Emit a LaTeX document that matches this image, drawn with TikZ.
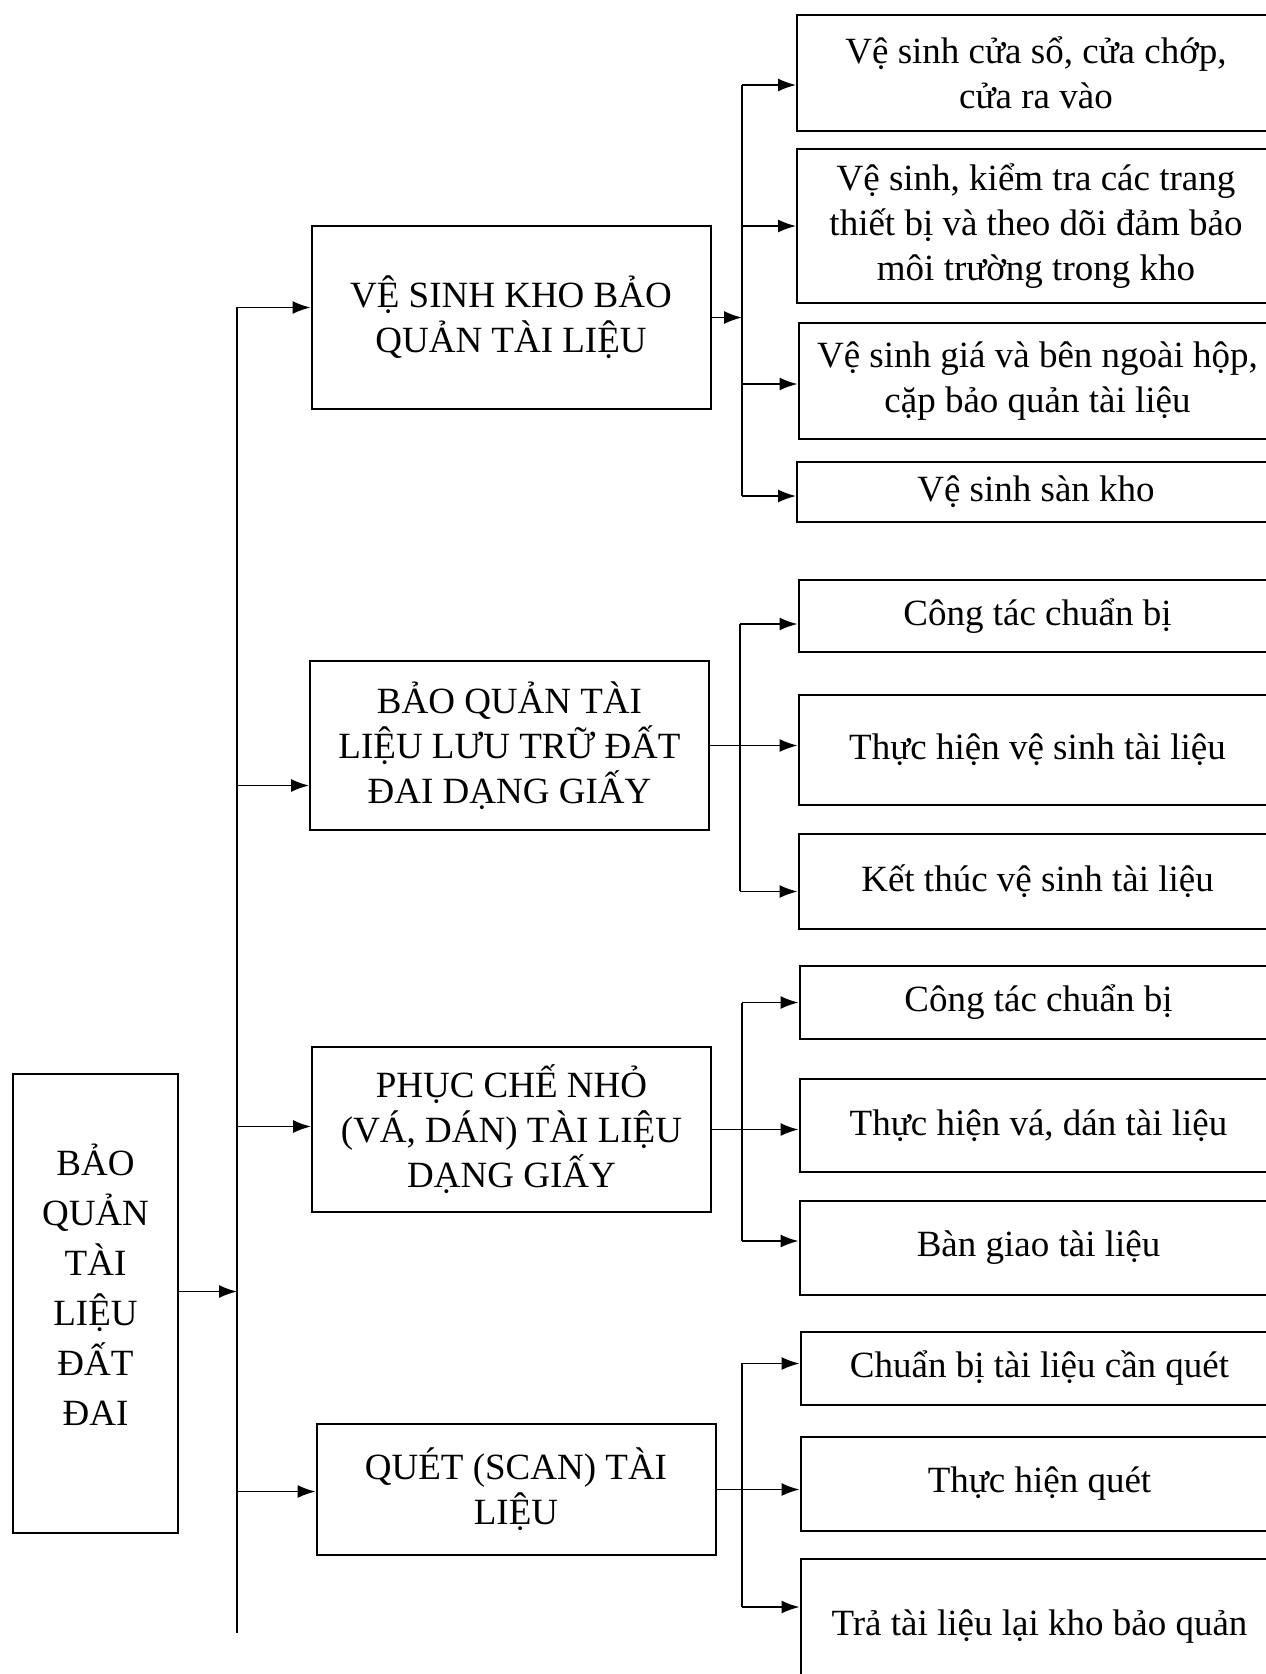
\documentclass[tikz,border=0pt]{standalone}
\usepackage{fontspec}
\setmainfont{Liberation Serif}
\usetikzlibrary{
  positioning,
  arrows.meta,
  calc
}

\begin{document}
\begin{tikzpicture}[
  x=1pt, y=-1pt,
  every node/.style={font=\fontsize{37}{45}\selectfont, align=center},
  rootbox/.style={
    rectangle, draw, line width=2pt,
    minimum width=165pt, minimum height=459pt,
    text depth=38pt,
    font=\fontsize{37}{50}\selectfont
  },
  midbox/.style={
    rectangle, draw, line width=2pt,
    minimum width=399pt
  },
  leaf/.style={
    rectangle, draw, line width=2pt,
    minimum width=478pt
  },
  link/.style={line width=1.6pt},
  arrow/.style={-{Latex[length=18pt,width=13pt]}, line width=1.6pt}
]
 \useasboundingbox (0,0) rectangle (1266,1674);
 \fill[white] (0,0) rectangle (1266,1674);

 % Root
 \node[rootbox] (root) at (95.5,1303.5)
  {BẢO\\QUẢN\\TÀI\\LIỆU\\ĐẤT\\ĐAI};

 % Four tasks
 \node[midbox, minimum height=183pt] (kho) at (511,317.5)
  {VỆ SINH KHO BẢO\\QUẢN TÀI LIỆU};
 \node[midbox, minimum height=169pt] (giay) at (509.5,745.5)
  {BẢO QUẢN TÀI\\LIỆU LƯU TRỮ ĐẤT\\ĐAI DẠNG GIẤY};
 \node[midbox, minimum height=165pt] (phucche) at (511.5,1129.5)
  {PHỤC CHẾ NHỎ\\(VÁ, DÁN) TÀI LIỆU\\DẠNG GIẤY};
 \node[midbox, minimum height=131pt] (quet) at (516,1489.5)
  {QUÉT (SCAN) TÀI\\LIỆU};

 % Steps of each task
 \node[leaf, minimum height=116pt] (cuaso) at (1036,73)
  {Vệ sinh cửa sổ, cửa chớp,\\cửa ra vào};
 \node[leaf, minimum height=154pt] (thietbi) at (1036,226)
  {Vệ sinh, kiểm tra các trang\\thiết bị và theo dõi đảm bảo\\môi trường trong kho};
 \node[leaf, minimum height=116pt] (gia) at (1037.5,381)
  {Vệ sinh giá và bên ngoài hộp,\\cặp bảo quản tài liệu};
 \node[leaf, minimum height=60pt] (san) at (1036,492) {Vệ sinh sàn kho};

 \node[leaf, minimum height=72pt] (chuanbiA) at (1037.5,616) {Công tác chuẩn bị};
 \node[leaf, minimum height=110pt] (thuchienA) at (1037.5,750) {Thực hiện vệ sinh tài liệu};
 \node[leaf, minimum height=95pt] (ketthuc) at (1037.5,881.5) {Kết thúc vệ sinh tài liệu};

 \node[leaf, minimum height=73pt] (chuanbiB) at (1038.5,1002.5) {Công tác chuẩn bị};
 \node[leaf, minimum height=93pt] (vadan) at (1038.5,1125.5) {Thực hiện vá, dán tài liệu};
 \node[leaf, minimum height=94pt] (bangiao) at (1038.5,1248) {Bàn giao tài liệu};

 \node[leaf, minimum height=73pt] (chuanbiC) at (1039.5,1368.5) {Chuẩn bị tài liệu cần quét};
 \node[leaf, minimum height=94pt] (thuchienC) at (1039.5,1484) {Thực hiện quét};
 \node[leaf, minimum height=136pt] (tra) at (1039.5,1627) {Trả tài liệu lại kho bảo quản};

 % Trunk line
 \coordinate (trunktop) at (237,307);
 \coordinate (trunkbot) at (237,1633);
 \draw[link] (trunktop) -- (trunkbot);
 \draw[arrow] ([yshift=12pt]root.east) -- ([yshift=12pt]root.east -| trunktop);
 \foreach \n/\dy in {kho/10, giay/-40, phucche/3, quet/-2} {
  \draw[arrow] ([yshift=\dy pt]\n.west -| trunktop) -- ([yshift=\dy pt]\n.west);
 }

 % Branch lines
 \coordinate (g1top) at (742,85);
 \coordinate (g1bot) at (742,496);
 \draw[link] (g1top) -- (g1bot);
 \draw[arrow] (kho.east) -- (kho.east -| g1top);
 \foreach \n/\dy in {cuaso/-12, thietbi/0, gia/-3, san/-4} {
  \draw[arrow] ([yshift=\dy pt]\n.west -| g1top) -- ([yshift=\dy pt]\n.west);
 }

 \coordinate (g2top) at (740,624);
 \coordinate (g2bot) at (740,891);
 \draw[link] (g2top) -- (g2bot);
 \draw[arrow] (giay.east) -- (giay.east -| thuchienA.west);
 \foreach \n/\dy in {chuanbiA/-8, ketthuc/-10} {
  \draw[arrow] ([yshift=\dy pt]\n.west -| g2top) -- ([yshift=\dy pt]\n.west);
 }

 \coordinate (g3top) at (742,1003);
 \coordinate (g3bot) at (742,1241);
 \draw[link] (g3top) -- (g3bot);
 \draw[arrow] (phucche.east) -- (phucche.east -| vadan.west);
 \foreach \n/\dy in {chuanbiB/0, bangiao/7} {
  \draw[arrow] ([yshift=\dy pt]\n.west -| g3top) -- ([yshift=\dy pt]\n.west);
 }

 \coordinate (g4top) at (742,1363);
 \coordinate (g4bot) at (742,1607);
 \draw[link] (g4top) -- (g4bot);
 \draw[arrow] (quet.east) -- (quet.east -| thuchienC.west);
 \foreach \n/\dy in {chuanbiC/5, tra/20} {
  \draw[arrow] ([yshift=\dy pt]\n.west -| g4top) -- ([yshift=\dy pt]\n.west);
 }
\end{tikzpicture}
\end{document}
